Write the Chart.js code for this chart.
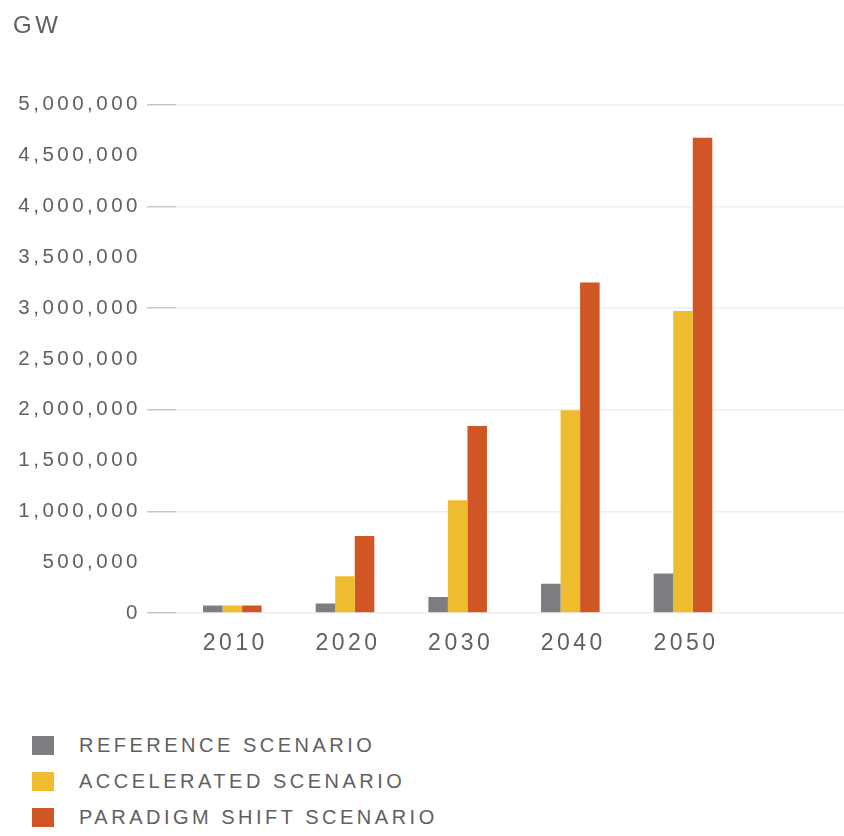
<!DOCTYPE html>
<html>
<head>
<meta charset="utf-8">
<script src="https://cdn.jsdelivr.net/npm/chart.js@4"></script>
<style>
  body { margin: 0; background: #fff; overflow: hidden; font-family: "Liberation Sans", Arial, sans-serif; }
  #wrap { position: relative; width: 852px; height: 673px; }
  #legend { position: absolute; left: 32px; top: 736px; margin: 0; padding: 0; list-style: none; }
  #legend li { height: 36px; display: flex; align-items: flex-start; color: #606060; font-size: 20px; letter-spacing: 3.5px; }
  #legend span.box { display: inline-block; width: 22px; height: 19px; margin-right: 25px; }
  #legend span.txt { line-height: 19px; }
</style>
</head>
<body>
<div id="wrap"><canvas id="chart"></canvas></div>
<ul id="legend"></ul>
<script>
const categories = ['2010', '2020', '2030', '2040', '2050'];
const yTicks = [0, 500000, 1000000, 1500000, 2000000, 2500000, 3000000, 3500000, 4000000, 4500000, 5000000];

const referenceScenario = [75000, 93000, 157000, 289000, 388000];
const acceleratedScenario = [75000, 361000, 1109000, 1995000, 2972000];
const paradigmShiftScenario = [75000, 758000, 1840000, 3252000, 4675000];

const seriesNames = ['REFERENCE SCENARIO', 'ACCELERATED SCENARIO', 'PARADIGM SHIFT SCENARIO'];
const colors = ['#7d7e81', '#f0bc2f', '#d05626'];

// the original leaves one empty slot on the right of the plot
const labels = [...categories, ''];

const textGray = '#606060';

const spacing = {
    id: 'spacing',
    beforeDraw(chart) { chart.ctx.letterSpacing = '3.5px'; },
    afterDraw(chart) { chart.ctx.letterSpacing = '0px'; }
};

const chart = new Chart(document.getElementById('chart'), {
    type: 'bar',
    data: {
        labels: labels,
        datasets: [referenceScenario, acceleratedScenario, paradigmShiftScenario].map((d, i) => ({
            label: seriesNames[i],
            data: d,
            backgroundColor: colors[i],
            categoryPercentage: 0.52,
            barPercentage: 1.0
        }))
    },
    options: {
        responsive: true,
        maintainAspectRatio: false,
        animation: false,
        layout: { padding: { left: 13, right: 0, top: 0, bottom: 0 } },
        scales: {
            x: {
                grid: { display: false },
                border: { display: false },
                ticks: {
                    color: textGray,
                    font: { family: '"Liberation Sans", Arial, sans-serif', size: 23 },
                    padding: 9,
                    labelOffset: 3,
                    maxRotation: 0
                },
                afterFit(scale) { scale.height = 60; }
            },
            y: {
                min: 0,
                max: yTicks[yTicks.length - 1],
                afterBuildTicks(scale) { scale.ticks = yTicks.map(v => ({ value: v })); },
                border: { display: false },
                grid: {
                    color: c => c.tick && c.tick.value % 1000000 === 0 ? '#efefef' : 'rgba(0,0,0,0)',
                    tickColor: c => c.tick && c.tick.value % 1000000 === 0 ? '#c6c6c6' : 'rgba(0,0,0,0)',
                    tickLength: 29,
                    lineWidth: 1.5
                },
                ticks: {
                    color: textGray,
                    font: { family: '"Liberation Sans", Arial, sans-serif', size: 20.5 },
                    padding: 6,
                    callback: v => v.toLocaleString('en-US')
                },
                afterFit(scale) { scale.width = 163; }
            }
        },
        plugins: {
            legend: { display: false },
            tooltip: { enabled: false },
            title: {
                display: true,
                text: 'GW',
                align: 'start',
                color: textGray,
                font: { family: '"Liberation Sans", Arial, sans-serif', size: 24, weight: 'normal' },
                padding: { top: 12, bottom: 64 }
            }
        }
    },
    plugins: [spacing]
});

// legend built from the chart's datasets
const ul = document.getElementById('legend');
chart.data.datasets.forEach(ds => {
    const li = document.createElement('li');
    li.innerHTML = '<span class="box" style="background:' + ds.backgroundColor + '"></span><span class="txt">' + ds.label + '</span>';
    ul.appendChild(li);
});
</script>
</body>
</html>
